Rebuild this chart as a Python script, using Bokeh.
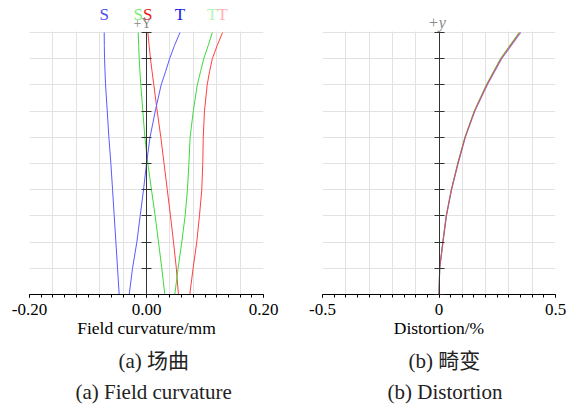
import numpy as np
from bokeh.plotting import figure
from bokeh.layouts import row
from bokeh.models import (Range1d, LinearAxis, FixedTicker, Title, BoxAnnotation,
                          ColumnDataSource, CustomJSTickFormatter, NumeralTickFormatter)
from bokeh.core.properties import value
from bokeh.embed import file_html
from bokeh.resources import INLINE

# Relative field height (0 = axis, 1 = full field); grid every 0.1
field = [0.0, 0.1, 0.2, 0.3, 0.4, 0.5, 0.6, 0.7, 0.8, 0.9, 1.0]
# finer sampling near the field edge for the curvature curves
fc_field = [0.0, 0.1, 0.2, 0.3, 0.4, 0.5, 0.6, 0.7, 0.8, 0.85, 0.9, 0.95, 1.0]

# Field curvature (mm): sagittal (S) and tangential (T) for three wavelengths
s_blue = [-0.0467, -0.0495, -0.0523, -0.0552, -0.0580, -0.0609, -0.0643, -0.0671, -0.0700, -0.0709, -0.0717, -0.0721, -0.0723]
t_blue = [-0.0296, -0.0239, -0.0165, -0.0108, -0.0051, 0.0000, 0.0060, 0.0150, 0.0250, 0.0325, 0.0395, 0.0478, 0.0572]
s_green = [0.0313, 0.0262, 0.0205, 0.0148, 0.0085, 0.0023, -0.0028, -0.0063, -0.0097, -0.0112, -0.0125, -0.0134, -0.0142]
t_green = [0.0484, 0.0540, 0.0603, 0.0660, 0.0700, 0.0725, 0.0745, 0.0800, 0.0868, 0.0923, 0.0978, 0.1054, 0.1125]
s_red = [0.0546, 0.0510, 0.0462, 0.0410, 0.0355, 0.0300, 0.0245, 0.0183, 0.0125, 0.0096, 0.0068, 0.0045, 0.0023]
t_red = [0.0740, 0.0797, 0.0859, 0.0905, 0.0945, 0.0962, 0.0970, 0.0991, 0.1037, 0.1077, 0.1125, 0.1208, 0.1300]

# Distortion (%) for three wavelengths, sampled on `field`
dist_green = [0.0, 0.003, 0.016, 0.031, 0.053, 0.080, 0.111, 0.151, 0.203, 0.264, 0.344]
dist_red = [0.0, 0.003, 0.017, 0.031, 0.053, 0.081, 0.112, 0.152, 0.205, 0.266, 0.347]
dist_blue = [0.0, 0.003, 0.017, 0.032, 0.054, 0.082, 0.113, 0.154, 0.207, 0.269, 0.351]

# Axis ticks
fc_ticks = [-0.2, 0.0, 0.2]
dist_ticks = [-0.5, 0.0, 0.5]

SERIF = "Liberation Serif"
CJK = "Liberation Serif, Noto Sans CJK SC"
GRID = "#e2e2e2"
AX = "#333333"
CAPTION = "#222222"

BLUE = "#5a5aff"
GREEN = "#3fd83f"
RED = "#ff4040"

Y_TOP = 1.107      # head-room above the full field for the curve names
NAME_Y = 1.069     # row of the S / T names
AXIS_NAME_Y = 1.036


def base_panel(width, left, right, x_lo, x_hi, n_grid, n_minor, ticks, fmt):
    p = figure(width=width, height=406, output_backend="svg", toolbar_location=None,
               x_range=Range1d(x_lo, x_hi), y_range=Range1d(0, Y_TOP),
               y_axis_location=None,
               min_border_left=left, min_border_right=right,
               min_border_top=4, min_border_bottom=112)
    p.background_fill_color = "white"
    p.border_fill_color = "white"
    p.outline_line_color = None

    p.xgrid.ticker = FixedTicker(ticks=list(np.linspace(x_lo, x_hi, n_grid + 1)))
    p.ygrid.ticker = FixedTicker(ticks=field)
    for g in (p.xgrid, p.ygrid):
        g.grid_line_color = GRID
        g.grid_line_width = 1

    # keep the grid inside the field area
    p.add_layout(BoxAnnotation(bottom=1.004, fill_color="white", fill_alpha=1.0,
                               line_color=None, level="underlay"))

    xa = p.xaxis[0]
    xa.ticker = FixedTicker(ticks=ticks,
                            minor_ticks=list(np.linspace(x_lo, x_hi, n_minor + 1)))
    xa.formatter = fmt
    xa.axis_line_color = "black"
    xa.major_tick_line_color = "black"
    xa.minor_tick_line_color = "black"
    xa.major_tick_in = 0
    xa.major_tick_out = 3
    xa.minor_tick_in = 0
    xa.minor_tick_out = 3
    xa.major_label_standoff = 6
    xa.major_label_text_font = SERIF
    xa.major_label_text_font_size = "17px"
    xa.major_label_text_color = "black"
    xa.axis_label_text_font = SERIF
    xa.axis_label_text_font_size = "17.5px"
    xa.axis_label_text_font_style = "normal"
    xa.axis_label_text_color = "black"
    xa.axis_label_standoff = 0

    # central field axis with crossing ticks
    ya = LinearAxis(fixed_location=0, bounds=(0, 1),
                    ticker=FixedTicker(ticks=field, minor_ticks=[]),
                    formatter=CustomJSTickFormatter(code="return ''"))
    ya.axis_line_color = AX
    ya.major_tick_line_color = AX
    ya.major_tick_in = 5
    ya.major_tick_out = 5
    ya.minor_tick_in = 0
    ya.minor_tick_out = 0
    p.add_layout(ya, "left")
    return p


def add_caption(p, text, font, offset, standoff):
    p.add_layout(Title(text=text, align="left", offset=offset, standoff=standoff,
                       text_font=font, text_font_size="21px", text_font_style="normal",
                       text_color=CAPTION), "below")


# ---- (a) Field curvature ----
p1 = base_panel(290, 29, 27, -0.2, 0.2, 10, 20, fc_ticks, NumeralTickFormatter(format="0.00"))
p1.xaxis[0].axis_label = "Field curvature/mm"

curves = [
    (s_blue, BLUE, "S", "#4f4fee"),
    (s_green, GREEN, "S", "#7cee7c"),
    (s_red, RED, "S", "#ee1a1a"),
    (t_blue, BLUE, "T", "#1a1aee"),
    (t_green, GREEN, "T", "#b2f7b2"),
    (t_red, RED, "T", "#ffb0b0"),
]
for xs, col, _, _ in curves:
    p1.line(xs, fc_field, line_color=col, line_width=1)

names = ColumnDataSource(dict(
    x=[c[0][-1] for c in curves],
    y=[NAME_Y] * len(curves),
    text=[c[2] for c in curves],
    color=[c[3] for c in curves],
))
p1.text(x="x", y="y", text="text", text_color="color", source=names,
        text_align="center", text_baseline="middle",
        text_font=value(SERIF), text_font_size="17px")

p1.text(x=[0], y=[AXIS_NAME_Y], text=["+Y"], x_offset=-4,
        text_align="center", text_baseline="middle",
        text_font=value(SERIF), text_font_size="14px", text_color="#888888")

add_caption(p1, "(a) 场曲", CJK, 89, 13)
add_caption(p1, "(a) Field curvature", SERIF, 46, -4)

# ---- (b) Distortion ----
p2 = base_panel(277, 32, 12, -0.5, 0.5, 10, 20, dist_ticks, NumeralTickFormatter(format="0.[0]"))
p2.xaxis[0].axis_label = "Distortion/%"

p2.line(dist_green, field, line_color=GREEN, line_width=1.1)
p2.line(dist_blue, field, line_color="#6a6aff", line_width=1.1, line_alpha=0.85)
p2.line(dist_red, field, line_color=RED, line_width=1.1, line_alpha=0.75)

p2.text(x=[0], y=[AXIS_NAME_Y + 0.003], text=["+y"], x_offset=-2,
        text_align="center", text_baseline="middle",
        text_font=value(SERIF), text_font_size="16px", text_font_style="italic",
        text_color="#888888")

add_caption(p2, "(b) 畸变", CJK, 86, 13)
add_caption(p2, "(b) Distortion", SERIF, 65, -4)

layout = row(p1, p2)
open("out.html", "w").write(file_html(layout, INLINE))
